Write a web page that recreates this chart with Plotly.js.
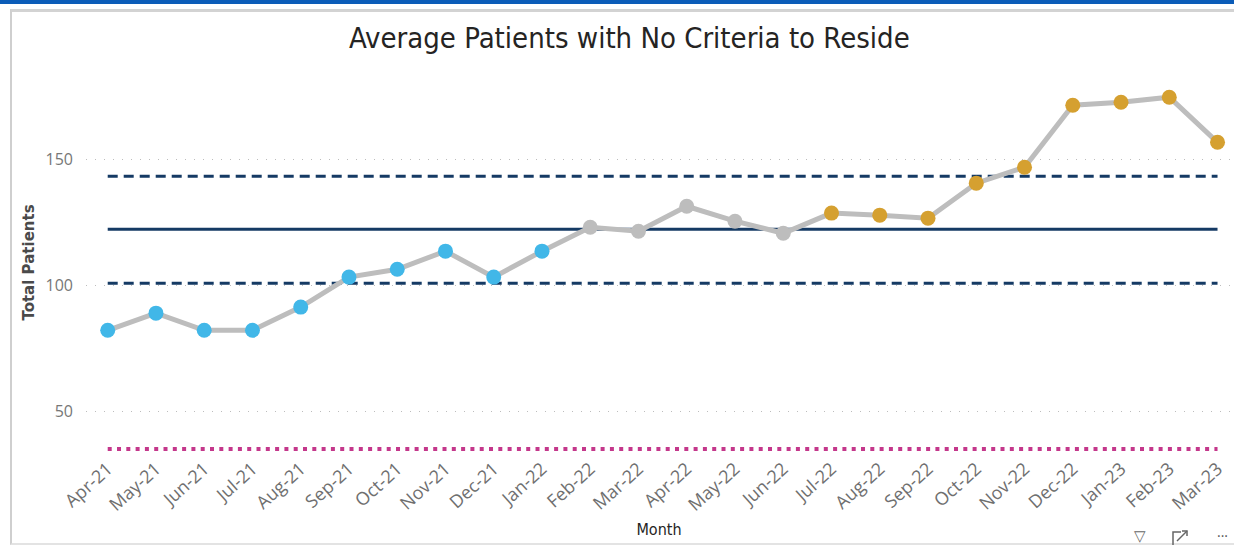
<!DOCTYPE html>
<html>
<head>
<meta charset="utf-8">
<script src="https://cdn.plot.ly/plotly-3.0.1.min.js"></script>
<style>
  html, body { margin:0; padding:0; background:#fff; width:1234px; height:547px; overflow:hidden; }
  #bar { position:absolute; left:0; top:0; width:1234px; height:4px; background:#0B5CB8; }
  #panel { position:absolute; left:10px; top:9px; width:1224px; height:536px; border-left:2px solid #cfcfcf; border-top:3px solid #d3d3d3; border-bottom:2px solid #e3e3e3; box-sizing:border-box; }
  #chart { position:absolute; left:0; top:0; width:1234px; height:547px; }
</style>
</head>
<body>
<div id="bar"></div>
<div id="panel"></div>
<div id="chart"></div>
<script>
const months = ["Apr-21","May-21","Jun-21","Jul-21","Aug-21","Sep-21","Oct-21","Nov-21","Dec-21","Jan-22","Feb-22","Mar-22","Apr-22","May-22","Jun-22","Jul-22","Aug-22","Sep-22","Oct-22","Nov-22","Dec-22","Jan-23","Feb-23","Mar-23"];
const patients = [82.1, 88.9, 82.1, 82.1, 91.3, 103.2, 106.3, 113.5, 103.2, 113.5, 123.0, 121.4, 131.3, 125.4, 120.6, 128.6, 127.8, 126.6, 140.5, 146.8, 171.4, 172.6, 174.6, 156.7];
const upperLimit = 143.2;
const meanLine = 122.2;
const lowerLimit = 100.8;
const targetLine = 35;
const yTicks = [50, 100, 150];
const blueMonths = months.slice(0, 10);
const greyMonths = months.slice(10, 15);
const goldMonths = months.slice(15);

const constLine = (v) => months.map(() => v);

const traces = [
  {x: months, y: constLine(targetLine), mode:'lines', line:{color:'#C4378B', width:4, dash:'4px,5.3px'}, hoverinfo:'skip'},
  {x: months, y: constLine(upperLimit), mode:'lines', line:{color:'#153A64', width:3, dash:'10px,6px'}, hoverinfo:'skip'},
  {x: months, y: constLine(lowerLimit), mode:'lines', line:{color:'#153A64', width:3, dash:'10px,6px'}, hoverinfo:'skip'},
  {x: months, y: constLine(meanLine), mode:'lines', line:{color:'#153A64', width:3}, hoverinfo:'skip'},
  {x: months, y: patients, mode:'lines', line:{color:'#BDBDBD', width:5}},
  {x: blueMonths, y: patients.slice(0,10), mode:'markers', marker:{color:'#41B7E8', size:15}},
  {x: greyMonths, y: patients.slice(10,15), mode:'markers', marker:{color:'#BDBDBD', size:15}},
  {x: goldMonths, y: patients.slice(15), mode:'markers', marker:{color:'#D5A030', size:15}}
];

const px = (v) => (v - 86) / 1146;
const py = (v) => (454 - v) / 383;

const layout = {
  width:1234, height:547,
  paper_bgcolor:'rgba(0,0,0,0)', plot_bgcolor:'rgba(0,0,0,0)',
  showlegend:false,
  margin:{l:86, r:2, t:71, b:93},
  title:{text:'Average Patients with No Criteria to Reside', x:0.51, xanchor:'center', y:0.93, yanchor:'middle', yref:'container',
         font:{family:"'DejaVu Sans Condensed','Liberation Sans Narrow','Roboto Condensed',Roboto,sans-serif", size:29, color:'#252423'}},
  xaxis:{type:'category', range:[-0.45, 23.3], showgrid:false, zeroline:false, showline:false, ticks:'',
         tickangle:-42, tickfont:{family:"'Open Sans','Noto Sans',sans-serif", size:18, color:'#6f6f6f'},
         title:{text:'Month', font:{family:"'DejaVu Sans Condensed','Liberation Sans Narrow',Roboto,sans-serif", size:16, color:'#252423'}, standoff:9}},
  yaxis:{range:[33,185], tickvals:yTicks, showgrid:true, gridcolor:'#bdbdbd', griddash:'1px,8px', gridwidth:1,
         zeroline:false, showline:false, ticks:'', ticklabelstandoff:12,
         tickfont:{family:"'Open Sans','Noto Sans',sans-serif", size:16, color:'#777'},
         title:{text:'<b>Total Patients</b>', font:{family:"'DejaVu Sans',sans-serif", size:15, color:'#4a4a4a'}, standoff:7}},
  annotations:[
    {xref:'paper', yref:'paper', x:px(1140), y:py(535), text:'▽', showarrow:false, font:{size:15, color:'#666'}, xanchor:'center', yanchor:'middle'},
    {xref:'paper', yref:'paper', x:px(1222), y:py(535), text:'···', showarrow:false, font:{size:14, color:'#555'}, xanchor:'center', yanchor:'middle'}
  ],
  shapes:[
    {type:'path', xref:'paper', yref:'paper', path:
      'M '+px(1173)+','+py(545)+' L '+px(1173)+','+py(532)+' L '+px(1181)+','+py(532),
      line:{color:'#666', width:1.5}},
    {type:'line', xref:'paper', yref:'paper', x0:px(1177), y0:py(541), x1:px(1187), y1:py(531), line:{color:'#666', width:1.5}},
    {type:'path', xref:'paper', yref:'paper', path:
      'M '+px(1182)+','+py(531)+' L '+px(1187)+','+py(531)+' L '+px(1187)+','+py(536),
      line:{color:'#666', width:1.5}}
  ]
};

Plotly.newPlot('chart', traces, layout, {displayModeBar:false, staticPlot:true});
</script>
</body>
</html>
